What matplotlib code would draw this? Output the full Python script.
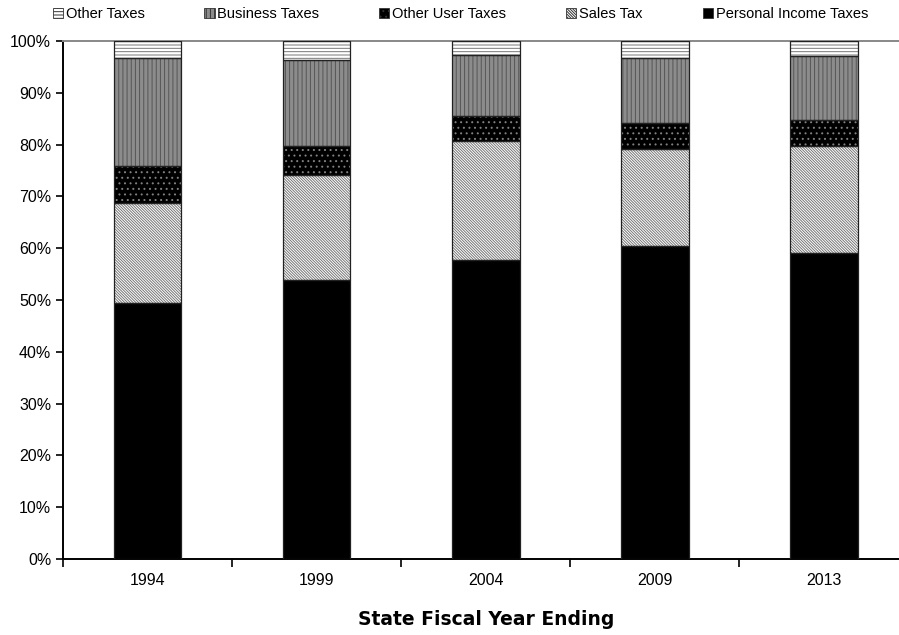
import numpy as np
import matplotlib.pyplot as plt
from matplotlib.patches import Patch
from matplotlib.ticker import PercentFormatter, FixedLocator

plt.rcParams['font.family'] = ['Liberation Sans', 'DejaVu Sans']
plt.rcParams['hatch.linewidth'] = 0.7

# share of state tax revenue by source, percent
years = ['1994', '1999', '2004', '2009', '2013']
personal_income = [49.5, 53.9, 57.7, 60.4, 59.1]
sales_tax = [19.3, 20.2, 23.0, 18.7, 20.7]
other_user = [7.1, 5.7, 4.8, 5.0, 4.9]
business = [20.8, 16.5, 11.8, 12.6, 12.4]
other_taxes = [3.3, 3.7, 2.7, 3.3, 2.9]

# stacked bottom-to-top: (label, values, face, hatch, hatch colour)
series = [
    ('Personal Income Taxes', personal_income, 'black', None, 'black'),
    ('Sales Tax', sales_tax, 'white', '\\' * 12, '#777777'),
    ('Other User Taxes', other_user, 'black', '...', '#808080'),
    ('Business Taxes', business, '#8c8c8c', '||||', '#555555'),
    ('Other Taxes', other_taxes, 'white', '-----', '#777777'),
]

fig = plt.figure(figsize=(8.99, 6.35), dpi=100)
ax = fig.add_axes([0.0701, 0.1197, 0.9404, 0.8157])

x = np.arange(len(years))
width = 0.4
bottom = np.zeros(len(years))
handles = {}
for label, vals, face, hatch, hcol in series:
    vals = np.array(vals)
    # hatched fill first, then a crisp outline on top
    ax.bar(x, vals, width, bottom=bottom, color=face, hatch=hatch,
           edgecolor=hcol, linewidth=0, zorder=2)
    ax.bar(x, vals, width, bottom=bottom, fill=False,
           edgecolor='#222222', linewidth=0.9, zorder=3)
    handles[label] = Patch(facecolor=face, hatch=hatch, edgecolor='#333333',
                           linewidth=0.6, label=label)
    bottom += vals

ax.set_xlim(-0.5, len(years) - 0.5)
ax.set_ylim(0, 100)
ax.set_xticks(x)
ax.set_xticklabels(years, fontsize=11.5)
ax.xaxis.set_minor_locator(FixedLocator(np.arange(-0.5, len(years), 1.0)))
ax.tick_params(axis='x', which='major', length=0, pad=10)
ax.tick_params(axis='x', which='minor', length=6, width=1.2, direction='out')
ax.set_yticks(np.arange(0, 101, 10))
ax.yaxis.set_major_formatter(PercentFormatter(decimals=0))
ax.tick_params(axis='y', length=5, width=1.2, direction='out', labelsize=11.5)

for side in ('left', 'bottom'):
    ax.spines[side].set_linewidth(1.4)
ax.spines['top'].set_color('#888888')
ax.spines['top'].set_linewidth(1.4)
ax.spines['right'].set_visible(False)

ax.set_xlabel('State Fiscal Year Ending', fontsize=13.5, fontweight='heavy',
              family='DejaVu Sans', labelpad=16)

order = ['Other Taxes', 'Business Taxes', 'Other User Taxes', 'Sales Tax',
         'Personal Income Taxes']
fig.legend(handles=[handles[k] for k in order], loc='center',
           bbox_to_anchor=(0.512, 0.978), ncol=5, frameon=False, fontsize=10.5,
           handlelength=0.7, handleheight=0.7, handletextpad=0.2,
           columnspacing=4.1)

fig.savefig('out.png', dpi=100)
